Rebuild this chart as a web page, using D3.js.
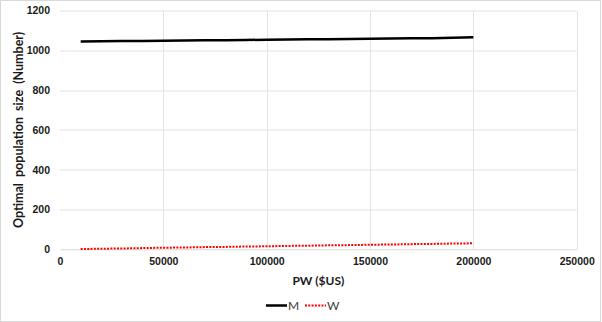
<!DOCTYPE html>
<html>
<head>
<meta charset="utf-8">
<script src="https://cdn.jsdelivr.net/npm/d3@7"></script>
<style>
  body { margin: 0; background: #fff; }
  svg { display: block; font-family: Lato, "Open Sans", sans-serif; }
  .tick text { font-weight: bold; fill: #1a1a1a; font-size: 10.5px; }
</style>
</head>
<body>
<svg id="chart" width="602" height="322"></svg>
<script>
// values
const pw = [10000, 20000, 30000, 40000, 50000, 60000, 70000, 80000, 90000, 100000,
            110000, 120000, 130000, 140000, 150000, 160000, 170000, 180000, 190000, 200000];
const seriesM = [1044, 1046, 1047, 1047, 1048, 1049, 1050, 1051, 1052, 1053,
                 1054, 1055, 1056, 1057, 1058, 1059, 1060, 1061, 1063, 1065];
const seriesW = [1, 3, 4, 6, 8, 9, 11, 12, 14, 15,
                 17, 18, 20, 21, 23, 24, 26, 27, 29, 30];
const xTicks = [0, 50000, 100000, 150000, 200000, 250000];
const yTicks = [0, 200, 400, 600, 800, 1000, 1200];
const seriesNames = ["M", "W"];

const svg = d3.select("#chart");
const W = 602, H = 322;
const m = { top: 10.5, right: 25.3, bottom: 72.7, left: 60 };

// outer chart border
svg.append("rect")
    .attr("x", 0.5).attr("y", 0.5)
    .attr("width", W - 2).attr("height", H - 1)
    .attr("fill", "#fff").attr("stroke", "#d9d9d9");

const g = svg.append("g").attr("transform", `translate(${m.left},${m.top})`);
const w = W - m.left - m.right, h = H - m.top - m.bottom;

const x = d3.scaleLinear().domain([0, 250000]).range([0, w]);
const y = d3.scaleLinear().domain([0, 1200]).range([h, 0]);

// grid
g.append("g").selectAll("line").data(yTicks.slice(1)).join("line")
    .attr("x1", 0).attr("x2", w)
    .attr("y1", d => Math.round(y(d)) + 0.5).attr("y2", d => Math.round(y(d)) + 0.5)
    .attr("stroke", "#e3e3e3");
g.append("g").selectAll("line").data(xTicks.slice(1)).join("line")
    .attr("y1", 0).attr("y2", h)
    .attr("x1", d => Math.round(x(d)) + 0.5).attr("x2", d => Math.round(x(d)) + 0.5)
    .attr("stroke", "#e3e3e3");

// axes
const xAxis = g.append("g").attr("transform", `translate(0,${h})`)
    .call(d3.axisBottom(x).tickValues(xTicks).tickFormat(d3.format("d")).tickSize(0).tickPadding(8));
xAxis.select(".domain").attr("stroke", "#d9d9d9");

const yAxis = g.append("g")
    .call(d3.axisLeft(y).tickValues(yTicks).tickFormat(d3.format("d")).tickSize(0).tickPadding(10));
yAxis.select(".domain").remove();

// lines
const line = vals => d3.line().x((d, i) => x(pw[i])).y(d => y(d))(vals);

g.append("path").attr("d", line(seriesM))
    .attr("fill", "none").attr("stroke", "#000").attr("stroke-width", 2.5);
g.append("path").attr("d", line(seriesW))
    .attr("fill", "none").attr("stroke", "#ff0000").attr("stroke-width", 2)
    .attr("stroke-dasharray", "2 1.3");

// axis titles
svg.append("text")
    .attr("x", m.left + w / 2).attr("y", 285)
    .attr("text-anchor", "middle")
    .attr("font-weight", "bold").attr("font-size", 12).attr("fill", "#1a1a1a")
    .text("PW ($US)");

svg.append("text")
    .attr("transform", `translate(22.5,${m.top + h / 2}) rotate(-90)`)
    .attr("text-anchor", "middle")
    .attr("font-weight", "bold").attr("font-size", 12.5).attr("fill", "#1a1a1a")
    .attr("word-spacing", 3)
    .text("Optimal population size (Number)");

// legend
const legend = svg.append("g").attr("transform", "translate(266,305.5)");
const legItems = [
    { name: seriesNames[0], x: 0, color: "#000", width: 2.5, dash: null },
    { name: seriesNames[1], x: 39, color: "#ff0000", width: 2, dash: "2 1.3" }
];
legItems.forEach(d => {
    legend.append("line")
        .attr("x1", d.x).attr("x2", d.x + 21).attr("y1", 0).attr("y2", 0)
        .attr("stroke", d.color).attr("stroke-width", d.width)
        .attr("stroke-dasharray", d.dash);
    legend.append("text")
        .attr("x", d.x + 22).attr("y", 4.5)
        .attr("font-size", 12).attr("fill", "#404040")
        .text(d.name);
});
</script>
</body>
</html>
